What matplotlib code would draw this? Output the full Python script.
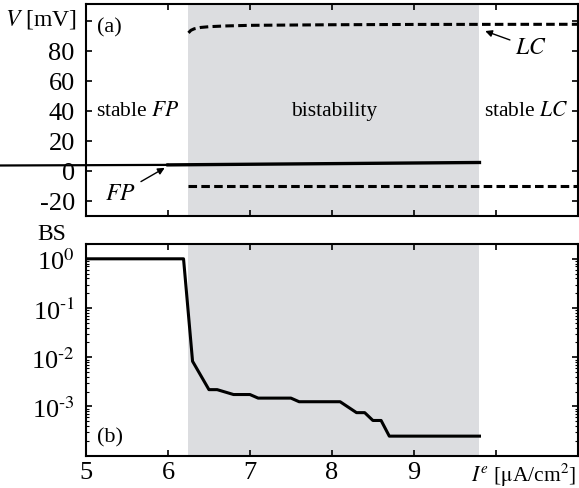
import numpy as np
import matplotlib
matplotlib.use('Agg')
import matplotlib.pyplot as plt
from matplotlib.ticker import LogLocator, NullFormatter

plt.rcParams['font.family'] = ['Liberation Serif', 'DejaVu Serif']
plt.rcParams['mathtext.fontset'] = 'stix'

# Daten
bistab = (6.25, 9.8)

fp_I = [3.95, 6.0, 9.8]
fp_V = [3.6, 4.0, 5.6]

lc_I = [6.25, 6.28, 6.32, 6.4, 6.5, 6.7, 7.0, 8.0, 9.0, 11.0]
lc_V = [91.8, 93.5, 94.5, 95.4, 95.9, 96.4, 96.8, 97.2, 97.4, 97.5]

lcmin_I = [6.25, 11.0]
lcmin_V = [-10.0, -10.0]

bs_I = [5.0, 6.19, 6.30, 6.50, 6.60, 6.80, 7.00, 7.10, 7.50, 7.60, 8.10,
        8.30, 8.40, 8.50, 8.60, 8.70, 9.80]
bs = [1.0, 1.0, 8.3e-3, 2.2e-3, 2.2e-3, 1.75e-3, 1.75e-3, 1.48e-3, 1.48e-3,
      1.25e-3, 1.25e-3, 7.5e-4, 7.5e-4, 5.2e-4, 5.2e-4, 2.5e-4, 2.5e-4]

bs_ticks = [1e-3, 1e-2, 1e-1, 1e0]
bs_labels = [r'10$^{\text{-}3}$', r'10$^{\text{-}2}$', r'10$^{\text{-}1}$', r'10$^{0}$']

grau = '#dcdde0'
fs = 19
dash = (0, (2.8, 1.4))

fig = plt.figure(figsize=(5.79, 4.89), dpi=100)
ax1 = fig.add_axes([0.1485, 0.5562, 0.8495, 0.4336])
ax2 = fig.add_axes([0.1485, 0.066, 0.8495, 0.433])

# (a) Bifurkationsdiagramm
ax1.axvspan(*bistab, color=grau, lw=0, zorder=0)
ax1.plot(fp_I[:2], fp_V[:2], 'k-', lw=1.6, clip_on=False)
ax1.plot(fp_I[1:], fp_V[1:], 'k-', lw=2.4)
ax1.plot(lc_I, lc_V, 'k', ls=dash, lw=2.2)
ax1.plot(lcmin_I, lcmin_V, 'k', ls=dash, lw=2.2)
ax1.set_xlim(5, 11)
ax1.set_ylim(-30, 111)
ax1.set_yticks([-20, 0, 20, 40, 60, 80, 100])
ax1.set_yticklabels(['-20', '0', '20', '40', '60', '80', ''])
ax1.set_xticks([5, 6, 7, 8, 9, 10])
ax1.set_xticklabels([])
ax1.text(-0.018, 0.985, r'$V$ [mV]', transform=ax1.transAxes, ha='right', va='top', fontsize=17)
ax1.text(5.29, 96, '(a)', ha='center', va='center', fontsize=16)
ax1.text(5.63, 40, r'stable $FP$', ha='center', va='center', fontsize=15.5)
ax1.text(8.03, 40, 'bistability', ha='center', va='center', fontsize=15.5)
ax1.text(10.37, 40, r'stable $LC$', ha='center', va='center', fontsize=15.5)
ax1.annotate(r'$LC$', xy=(9.87, 93), xytext=(10.43, 82), ha='center', va='center',
             fontsize=17, arrowprops=dict(arrowstyle='-|>', color='k', lw=1, mutation_scale=10,
                                          shrinkA=2, shrinkB=0))
ax1.annotate(r'$FP$', xy=(5.96, 2), xytext=(5.42, -15), ha='center', va='center',
             fontsize=17, arrowprops=dict(arrowstyle='-|>', color='k', lw=1, mutation_scale=10,
                                          shrinkA=2, shrinkB=0))

# (b) Basin stability
ax2.axvspan(*bistab, color=grau, lw=0, zorder=0)
ax2.plot(bs_I, bs, 'k-', lw=2.2)
ax2.set_yscale('log')
ax2.set_xlim(5, 11)
ax2.set_ylim(1e-4, 2)
ax2.set_yticks(bs_ticks)
ax2.set_yticklabels(bs_labels)
ax2.yaxis.set_minor_locator(LogLocator(base=10, subs=np.arange(2, 10), numticks=20))
ax2.yaxis.set_minor_formatter(NullFormatter())
ax2.set_xticks([5, 6, 7, 8, 9, 10])
ax2.set_xticklabels(['5', '6', '7', '8', '9', ''])
ax2.text(-0.07, 1.0, 'BS', transform=ax2.transAxes, ha='center', va='bottom', fontsize=17)
ax2.text(5.29, 2.4e-4, '(b)', ha='center', va='center', fontsize=16)
ax2.text(0.998, -0.025, r'$I^e$ [$\mathrm{\mu}$A/cm$^2$]', transform=ax2.transAxes,
         ha='right', va='top', fontsize=15.5)

for ax in (ax1, ax2):
    for s in ax.spines.values():
        s.set_linewidth(1.5)
    ax.tick_params(which='both', direction='in', top=True, right=True, labelsize=fs, width=1.2)
    ax.tick_params(which='major', length=4)
    ax.tick_params(which='minor', length=2, width=0.8)
    ax.tick_params(axis='x', pad=4)
    ax.tick_params(axis='y', pad=8)

plt.savefig('out.png', dpi=100)
